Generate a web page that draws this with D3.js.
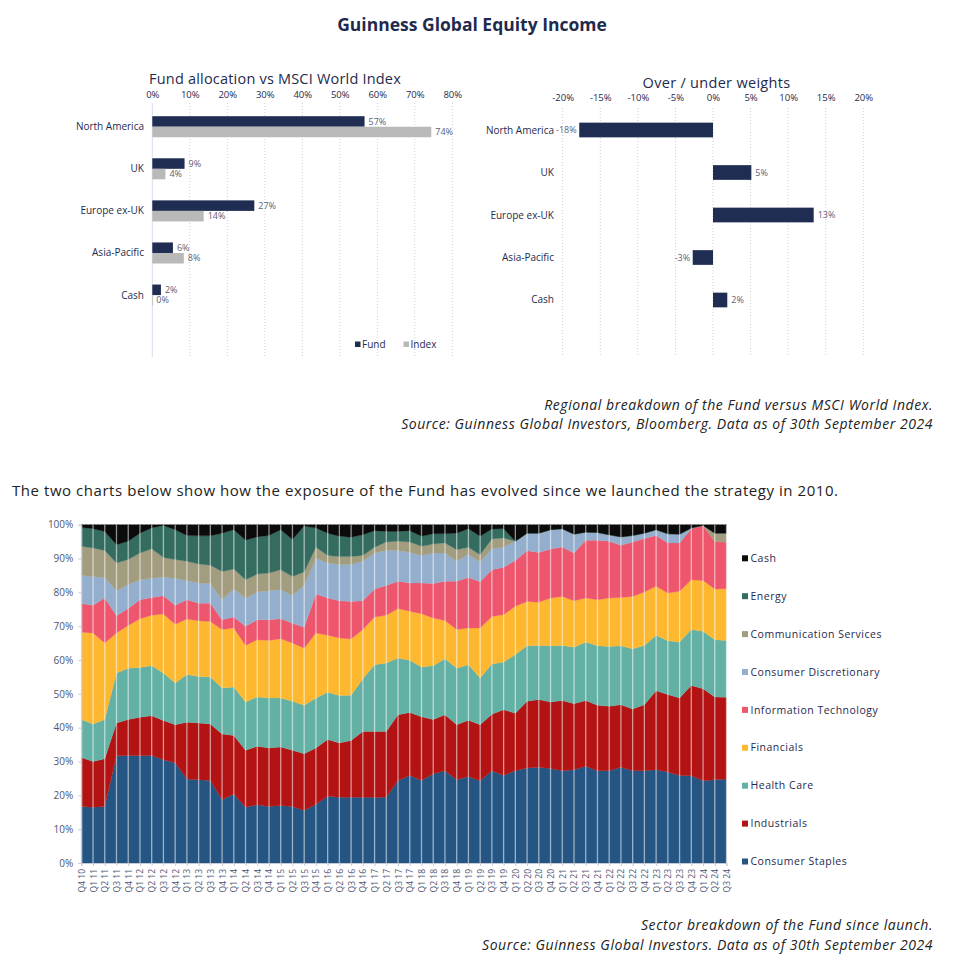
<!DOCTYPE html>
<html>
<head>
<meta charset="utf-8">
<script src="https://cdn.jsdelivr.net/npm/d3@7"></script>
<style>
body{margin:0;background:#fff}
text{font-family:"Open Sans",sans-serif}
</style>
</head>
<body>
<svg id="chart" width="958" height="971"></svg>
<script>
// regional allocation
const regions = ["North America", "UK", "Europe ex-UK", "Asia-Pacific", "Cash"]
const fundWeights = [56.6, 8.6, 27.2, 5.5, 2.3]
const indexWeights = [74.4, 3.5, 13.7, 8.4, 0]
const overUnder = [-17.8, 5.1, 13.4, -2.7, 1.9]
const allocTicks = [0, 10, 20, 30, 40, 50, 60, 70, 80]
const relTicks = [-20, -15, -10, -5, 0, 5, 10, 15, 20]

// sector history, Q4 10 .. Q3 24
const quarters = ["Q4 10",
	"Q1 11","Q2 11","Q3 11","Q4 11","Q1 12","Q2 12","Q3 12","Q4 12",
	"Q1 13","Q2 13","Q3 13","Q4 13","Q1 14","Q2 14","Q3 14","Q4 14",
	"Q1 15","Q2 15","Q3 15","Q4 15","Q1 16","Q2 16","Q3 16","Q4 16",
	"Q1 17","Q2 17","Q3 17","Q4 17","Q1 18","Q2 18","Q3 18","Q4 18",
	"Q1 19","Q2 19","Q3 19","Q4 19","Q1 20","Q2 20","Q3 20","Q4 20",
	"Q1 21","Q2 21","Q3 21","Q4 21","Q1 22","Q2 22","Q3 22","Q4 22",
	"Q1 23","Q2 23","Q3 23","Q4 23","Q1 24","Q2 24","Q3 24"]
const sectors = ["Consumer Staples", "Industrials", "Health Care", "Financials", "Information Technology",
	"Consumer Discretionary", "Communication Services", "Energy", "Cash"]
const sectorColors = ["#245583", "#b31312", "#63b1a5", "#fdb830", "#ee566d", "#93afcd", "#a39d80", "#346d60", "#0b0b0b"]

const consumerStaples = [16.7,
	16.5,16.7,31.7,31.8, 31.7,31.8,30.5,29.6, 24.8,24.6,24.4,18.7, 20.4,16.5,17.2,16.7,
	17.0,16.7,15.5,17.4, 19.7,19.4,19.4,19.4, 19.4,19.4,24.4,25.9, 24.4,26.4,27.3,24.6,
	25.6,24.3,27.3,25.9, 27.3,28.1,28.3,27.9, 27.3,27.6,28.6,27.3, 27.3,28.3,27.3,27.3,
	27.6,26.9,25.9,25.8, 24.3,24.6,24.8]
const industrials = [14.5,
	13.5,14.1,9.7,10.6, 11.4,11.7,11.6,11.3, 16.8,16.8,16.7,19.4, 17.3,16.8,17.3,17.3,
	17.3,16.6,16.8,16.6, 16.8,16.1,16.8,19.5, 19.5,19.5,19.4,18.6, 18.8,16.0,16.5,16.3,
	16.6,16.6,16.7,19.4, 17.0,19.7,20.0,19.7, 20.7,19.5,19.4,19.3, 19.0,18.5,18.2,19.5,
	23.3,22.9,22.9,26.7, 27.2,24.5,24.2]
const healthCare = [11.2,
	11.1,11.6,14.8,15.2, 14.7,14.8,14.1,12.3, 14.1,13.7,13.9,13.6, 14.3,14.3,14.6,14.8,
	14.5,14.5,14.3,14.8, 14.0,14.0,13.4,15.6, 19.7,20.2,16.8,15.4, 14.7,15.9,16.6,16.7,
	16.4,13.8,14.8,14.1, 17.3,16.4,16.0,16.6, 16.3,16.7,17.3,17.6, 17.7,17.4,17.8,17.5,
	16.4,15.9,16.5,16.5, 17.0,16.9,16.8]
const financials = [25.8,
	26.9,22.6,11.8,12.6, 14.4,14.9,17.4,17.4, 16.4,16.5,16.4,17.3, 17.5,16.7,16.9,17.0,
	17.5,17.2,16.9,19.2, 16.8,17.0,16.6,14.5, 14.1,14.1,14.6,14.5, 15.8,14.1,11.3,11.4,
	10.9,14.8,14.1,14.0, 14.3,13.1,12.8,14.1, 14.5,13.7,13.0,13.6, 14.3,14.3,15.5,15.8,
	14.5,14.1,15.0,14.7, 15.0,15.0,15.3]
const infoTech = [8.5,
	8.2,13.3,5.1,5.0, 5.6,5.3,5.4,5.6, 5.7,5.2,5.4,2.9, 3.2,5.7,5.9,6.1,
	5.9,5.9,6.2,11.5, 11.0,11.0,11.1,8.5, 8.3,8.8,8.1,8.4, 9.1,10.2,11.6,14.3,
	14.9,13.6,13.8,14.0, 13.5,15.0,14.7,14.5, 14.6,14.1,17.1,17.6, 16.8,15.4,16.1,15.8,
	15.0,14.8,14.3,15.1, 16.3,14.1,13.8]
const consumerDisc = [8.3,
	8.5,6.1,7.4,7.1, 5.9,5.7,5.5,8.0, 5.7,6.0,5.8,5.9, 8.3,8.3,8.2,8.6,
	8.6,8.2,12.3,10.6, 10.4,10.7,10.9,11.7, 10.6,10.4,9.1,9.0, 8.1,9.0,8.3,5.9,
	6.9,5.9,6.2,5.9, 5.7,5.2,5.7,5.7, 5.4,5.6,2.4,2.3, 1.9,2.5,1.9,1.6,
	1.7,2.7,2.6,0.2, 0,0,0]
const commServices = [8.6,
	8.4,8.0,8.2,7.4, 7.9,8.7,5.8,5.5, 5.7,5.6,5.4,8.4, 5.9,5.4,5.3,5.2,
	5.9,5.6,4.0,3.2, 2.2,2.4,2.4,1.7, 1.7,2.5,2.7,3.1, 2.7,2.7,3.0,3.4,
	2.0,2.1,2.9,2.8, 0,0,0,0, 0,0,0,0, 0,0,0,0,
	0,0,0,0, 0,2.4,2.6]
const energy = [5.6,
	5.7,5.6,5.4,5.4, 5.9,6.1,9.5,8.8, 7.6,8.3,8.7,11.3, 11.6,11.7,11.0,11.1,
	11.8,10.9,13.6,5.7, 6.6,6.0,5.7,6.1, 4.9,3.1,2.9,3.3, 3.0,3.0,2.7,4.9,
	5.5,5.5,2.9,2.7, 0,0,0,0, 0,0,0,0, 0,0,0,0,
	0,0,0,0, 0,0,0]
const cash = [0.8,
	1.2,2.0,5.9,4.9, 2.5,1.0,0.2,1.5, 3.2,3.3,3.3,2.5, 1.5,4.6,3.6,3.2,
	1.5,4.4,0.4,1.0, 2.5,3.4,3.7,3.0, 1.8,2.0,2.0,1.8, 3.4,2.7,2.7,2.5,
	1.2,3.4,1.3,1.2, 4.9,2.5,2.5,1.5, 1.2,2.8,2.2,2.3, 3.0,3.6,3.2,2.5,
	1.5,2.7,2.8,1.0, 0.2,2.5,2.5]
const sectorSeries = [consumerStaples, industrials, healthCare, financials, infoTech,
	consumerDisc, commServices, energy, cash]

const navy = "#1f2a4d", tickGrey = "#4d5573", labelGrey = "#5a6078"
const svg = d3.select("#chart")

svg.append("text")
	.attr("x", 472).attr("y", 31)
	.attr("text-anchor", "middle")
	.attr("font-size", 17.5).attr("font-weight", 700)
	.attr("fill", navy)
	.text("Guinness Global Equity Income")

// ---- Fund allocation vs MSCI World Index ----
const xA = d3.scaleLinear().domain([0, 80]).range([152.3, 452.3])
const yA = d3.scaleBand().domain(regions).range([116.2, 305.6]).paddingInner(0.5)
const barA = yA.bandwidth() / 2
const gA = svg.append("g")

gA.append("text")
	.attr("x", 275).attr("y", 84)
	.attr("text-anchor", "middle")
	.attr("font-size", 14.5).attr("font-weight", 500).attr("letter-spacing", 0.2)
	.attr("fill", navy)
	.text("Fund allocation vs MSCI World Index")

gA.append("g").selectAll("line")
	.data(allocTicks)
	.enter().append("line")
	.attr("x1", d => xA(d)).attr("x2", d => xA(d))
	.attr("y1", 103).attr("y2", 357)
	.attr("stroke", d => d == 0 ? "#d9dcec" : "#cfcfcf")
	.attr("stroke-dasharray", d => d == 0 ? null : "1,2")

gA.append("g")
	.attr("transform", "translate(0,98)")
	.call(d3.axisTop(xA).tickValues(allocTicks).tickFormat(d => d + "%").tickSize(0).tickPadding(0))
	.call(g => g.select(".domain").remove())
	.selectAll("text")
	.attr("font-family", "Open Sans").attr("font-size", 9.5).attr("fill", navy)

gA.append("g").selectAll("text")
	.data(regions)
	.enter().append("text")
	.attr("x", 144).attr("y", d => yA(d) + barA)
	.attr("dy", "0.35em")
	.attr("text-anchor", "end")
	.attr("font-size", 10).attr("fill", navy)
	.text(d => d)

const allocRows = regions.map((r, i) => ({region: r, fund: fundWeights[i], index: indexWeights[i]}))
const allocBars = [["fund", "#1f2d52", 0], ["index", "#b9b9b9", 1]]
allocBars.forEach(([key, colour, k]) => {
	gA.append("g").selectAll("rect")
		.data(allocRows)
		.enter().append("rect")
		.attr("x", xA(0))
		.attr("y", d => yA(d.region) + k * barA)
		.attr("width", d => Math.max(0.8, xA(d[key]) - xA(0)))
		.attr("height", barA)
		.attr("fill", colour)
	gA.append("g").selectAll("text")
		.data(allocRows)
		.enter().append("text")
		.attr("x", d => xA(d[key]) + 4)
		.attr("y", d => yA(d.region) + k * barA + barA / 2)
		.attr("dy", "0.35em")
		.attr("font-size", 9).attr("fill", labelGrey)
		.text(d => Math.round(d[key]) + "%")
})

const legA = gA.append("g").selectAll("g")
	.data([["Fund", "#1f2d52", 355], ["Index", "#b9b9b9", 403.5]])
	.enter().append("g")
legA.append("rect")
	.attr("x", d => d[2]).attr("y", 341.5)
	.attr("width", 5.5).attr("height", 5.5)
	.attr("fill", d => d[1])
legA.append("text")
	.attr("x", d => d[2] + 7).attr("y", 344.3)
	.attr("dy", "0.35em")
	.attr("font-size", 10).attr("fill", navy)
	.text(d => d[0])

// ---- Over / under weights ----
const xB = d3.scaleLinear().domain([-20, 20]).range([562.7, 863.3])
const yB = d3.scaleBand().domain(regions).range([122.65, 307.35]).paddingInner(0.654)
const gB = svg.append("g")

gB.append("text")
	.attr("x", 716.5).attr("y", 87.5)
	.attr("text-anchor", "middle")
	.attr("font-size", 14.5).attr("font-weight", 500).attr("letter-spacing", 0.3)
	.attr("fill", navy)
	.text("Over / under weights")

gB.append("g").selectAll("line")
	.data(relTicks)
	.enter().append("line")
	.attr("x1", d => xB(d)).attr("x2", d => xB(d))
	.attr("y1", 108).attr("y2", 357)
	.attr("stroke", "#cfcfcf")
	.attr("stroke-dasharray", "1,2")

gB.append("g")
	.attr("transform", "translate(0,101)")
	.call(d3.axisTop(xB).tickValues(relTicks).tickFormat(d => d + "%").tickSize(0).tickPadding(0))
	.call(g => g.select(".domain").remove())
	.selectAll("text")
	.attr("font-family", "Open Sans").attr("font-size", 9.5).attr("fill", navy)

gB.append("g").selectAll("text")
	.data(regions)
	.enter().append("text")
	.attr("x", 554).attr("y", d => yB(d) + yB.bandwidth() / 2)
	.attr("dy", "0.35em")
	.attr("text-anchor", "end")
	.attr("font-size", 10).attr("fill", navy)
	.text(d => d)

const relRows = regions.map((r, i) => ({region: r, value: overUnder[i]}))
gB.append("g").selectAll("rect")
	.data(relRows)
	.enter().append("rect")
	.attr("x", d => xB(Math.min(0, d.value)))
	.attr("y", d => yB(d.region))
	.attr("width", d => Math.abs(xB(d.value) - xB(0)))
	.attr("height", yB.bandwidth())
	.attr("fill", "#1f2d52")
gB.append("g").selectAll("text")
	.data(relRows)
	.enter().append("text")
	.attr("x", d => d.value < 0 ? xB(d.value) - 2.5 : xB(d.value) + 4)
	.attr("y", d => yB(d.region) + yB.bandwidth() / 2)
	.attr("dy", "0.35em")
	.attr("text-anchor", d => d.value < 0 ? "end" : "start")
	.attr("font-size", 9).attr("fill", labelGrey)
	.text(d => Math.round(d.value) + "%")

// captions and paragraph
function caption(lines, y0, step){
	svg.append("g").selectAll("text")
		.data(lines)
		.enter().append("text")
		.attr("x", 933).attr("y", (d, i) => y0 + i * step)
		.attr("text-anchor", "end")
		.attr("font-size", 14).attr("font-style", "italic").attr("letter-spacing", 0.55)
		.attr("fill", "#222")
		.text(d => d)
}
caption(["Regional breakdown of the Fund versus MSCI World Index.",
	"Source: Guinness Global Investors, Bloomberg. Data as of 30th September 2024"], 409.5, 19.5)

svg.append("text")
	.attr("x", 12).attr("y", 496)
	.attr("font-size", 15).attr("letter-spacing", 0.55).attr("fill", "#222")
	.text("The two charts below show how the exposure of the Fund has evolved since we launched the strategy in 2010.")

// ---- Sector breakdown since launch ----
const xS = d3.scalePoint().domain(quarters).range([81.3, 726.5])
const yS = d3.scaleLinear().domain([0, 100]).range([863, 524.7])
const rows = quarters.map((q, i) => {
	const row = {quarter: q}
	sectors.forEach((s, j) => row[s] = sectorSeries[j][i])
	return row
})
const stacked = d3.stack().keys(sectors)(rows)
const area = d3.area()
	.x(d => xS(d.data.quarter))
	.y0(d => yS(d[0]))
	.y1(d => yS(d[1]))
const gS = svg.append("g")

gS.append("line")
	.attr("x1", xS.range()[0]).attr("x2", xS.range()[1])
	.attr("y1", yS(100)).attr("y2", yS(100))
	.attr("stroke", "#b8b8b8").attr("stroke-dasharray", "2,2")

gS.append("g").selectAll("path")
	.data(stacked)
	.enter().append("path")
	.attr("d", area)
	.attr("fill", (d, i) => sectorColors[i])
	.attr("stroke", (d, i) => sectorColors[i])
	.attr("stroke-width", 0.3)

gS.append("g").selectAll("line")
	.data(quarters)
	.enter().append("line")
	.attr("x1", d => xS(d)).attr("x2", d => xS(d))
	.attr("y1", yS(0)).attr("y2", yS(100))
	.attr("stroke", "#fff").attr("stroke-opacity", 0.55)
	.attr("stroke-width", 1.3)

gS.append("g")
	.attr("transform", `translate(${xS.range()[0]},0)`)
	.call(d3.axisLeft(yS).tickValues(d3.range(0, 101, 10)).tickFormat(d => d + "%").tickSize(3).tickPadding(5))
	.call(g => g.selectAll("line, .domain").attr("stroke", "#c8cbd6"))
	.selectAll("text")
	.attr("font-family", "Open Sans").attr("font-size", 10).attr("fill", tickGrey)

gS.append("g")
	.attr("transform", `translate(0,${yS(0)})`)
	.call(d3.axisBottom(xS).tickSize(3).tickPadding(3))
	.call(g => g.selectAll("line, .domain").attr("stroke", "#c8cbd6"))
	.selectAll("text")
	.attr("font-family", "Open Sans").attr("font-size", 8.5).attr("fill", tickGrey)
	.attr("text-anchor", "end")
	.attr("transform", "rotate(-90)")
	.attr("x", -6).attr("y", 0).attr("dy", "0.35em")

const legS = gS.append("g").selectAll("g")
	.data(sectors.slice().reverse())
	.enter().append("g")
	.attr("transform", (d, i) => `translate(742,${558.3 + i * 37.9})`)
legS.append("rect")
	.attr("y", -3).attr("width", 6).attr("height", 6)
	.attr("fill", d => sectorColors[sectors.indexOf(d)])
legS.append("text")
	.attr("x", 8.5).attr("dy", "0.35em")
	.attr("font-size", 10.5).attr("letter-spacing", 0.5).attr("fill", navy)
	.text(d => d)

caption(["Sector breakdown of the Fund since launch.",
	"Source: Guinness Global Investors. Data as of 30th September 2024"], 929.5, 20.5)
</script>
</body>
</html>
